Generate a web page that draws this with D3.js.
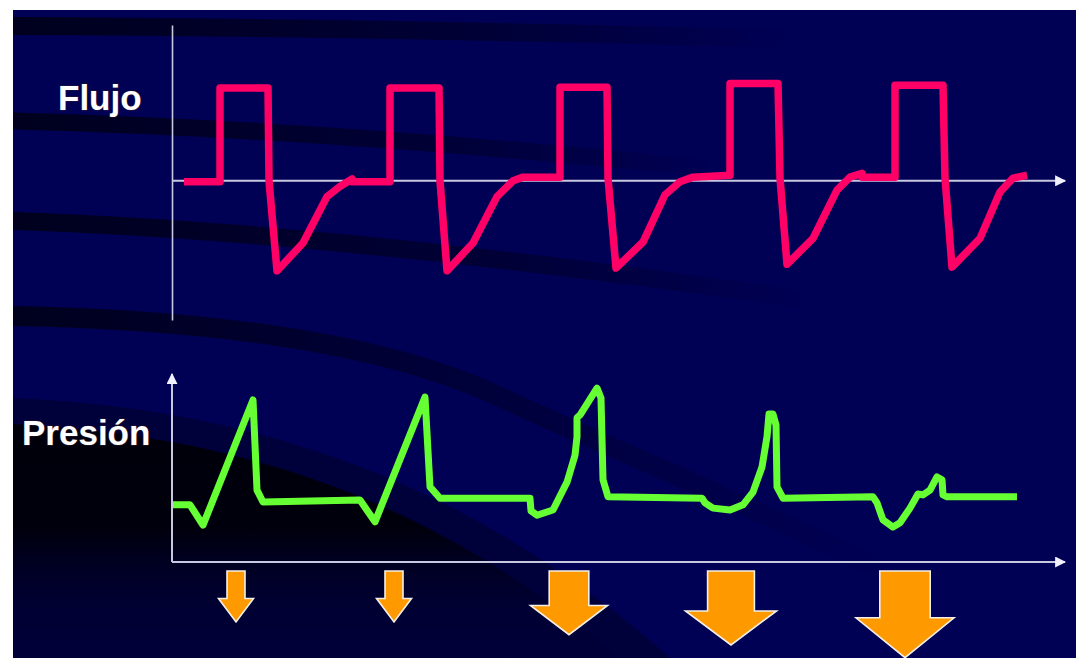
<!DOCTYPE html>
<html><head><meta charset="utf-8">
<script src="https://cdn.jsdelivr.net/npm/d3@7"></script>
<style>html,body{margin:0;padding:0;background:#fff;overflow:hidden}</style>
</head><body><svg id="c" width="1076" height="658"></svg>
<script>
// ---------- data (time in s, flow in L/s, pressure in cmH2O) ----------
const flowTime  = [0.12,0.48,0.48,0.96,0.97,1.05,1.31,1.55,1.68,1.80,
                   1.80,2.18,2.18,2.67,2.68,2.75,3.01,3.25,3.41,3.51,
                   3.88,3.88,4.35,4.36,4.44,4.71,4.93,5.08,5.21,
                   5.58,5.58,6.06,6.08,6.15,6.41,6.65,6.78,6.90,
                   6.90,7.23,7.23,7.71,7.73,7.80,8.08,8.28,8.41,8.55];
const flowValue = [-0.01,-0.01,1.00,1.00,0.00,-0.97,-0.67,-0.17,-0.06,0.02,
                   -0.01,-0.01,1.00,1.00,0.00,-0.97,-0.67,-0.17,0.00,0.04,
                   0.04,1.01,1.01,0.03,-0.94,-0.66,-0.15,-0.01,0.04,
                   0.06,1.05,1.05,0.03,-0.90,-0.62,-0.10,0.04,0.08,
                   0.04,0.04,1.03,1.03,0.03,-0.93,-0.62,-0.12,0.03,0.06];
const pressTime  = [0.01,0.18,0.31,0.81,0.85,0.91,1.88,
                    2.03,2.53,2.58,2.68,3.58,
                    3.59,3.65,3.81,3.95,4.03,4.05,4.05,4.08,4.25,4.29,4.31,4.36,5.30,
                    5.33,5.41,5.58,5.71,5.81,5.90,5.95,5.97,6.01,6.04,6.05,6.11,7.01,
                    7.05,7.11,7.21,7.28,7.38,7.46,7.51,7.58,7.65,7.70,7.71,7.75,8.45];
const pressValue = [12.1,12.1,7.8,34.3,15.2,12.7,13.1,
                    8.5,34.9,15.9,13.5,13.5,
                    10.8,9.9,11.0,16.9,22.6,26.5,30.5,31.1,36.8,34.7,17.4,13.8,13.5,
                    12.5,11.4,11.0,12.1,14.8,20.1,26.5,31.3,31.3,29.0,15.9,13.5,13.8,
                    12.5,8.9,7.4,8.3,11.4,14.4,14.2,15.2,18.0,17.4,14.2,13.8,13.8];
const arrowTime  = [0.64, 2.22, 3.97, 5.59, 7.33];
const arrowWidth = [1, 1, 2.2, 2.6, 2.8];
const arrowDepth = [1, 1, 1.25, 1.45, 1.7];
const panelLabels = ["Flujo", "Presión"];

// ---------- setup ----------
const svg = d3.select("#c");
const defs = svg.append("defs");

// background slide
svg.append("rect").attr("x",0).attr("y",0).attr("width",1076).attr("height",658).attr("fill","#fff");
svg.append("rect").attr("x",13).attr("y",10).attr("width",1063).attr("height",648).attr("fill","#000055");

function fadeGrad(id, x1, x2, stops){
  const g = defs.append("linearGradient").attr("id",id).attr("gradientUnits","userSpaceOnUse")
    .attr("x1",x1[0]).attr("y1",x1[1]).attr("x2",x2[0]).attr("y2",x2[1]);
  stops.forEach(s=>g.append("stop").attr("offset",s[0]).attr("stop-color",s[1]).attr("stop-opacity",s[2]));
}
fadeGrad("gA",[13,0],[800,0],[[0,"#000018",0.9],[0.6,"#000018",0.5],[1,"#000018",0]]);
fadeGrad("gB",[13,0],[720,0],[[0,"#000018",0.9],[0.6,"#000018",0.5],[1,"#000018",0]]);
fadeGrad("gC",[13,0],[820,0],[[0,"#000018",0.9],[0.6,"#000018",0.5],[1,"#000018",0]]);
fadeGrad("gD",[13,0],[900,0],[[0,"#000018",0.9],[0.5,"#000018",0.45],[1,"#000018",0]]);
fadeGrad("gL",[0,400],[0,658],[[0,"#000008",0.95],[0.5,"#000008",0.9],[0.75,"#000020",0.45],[1,"#000030",0.15]]);

const bg = svg.append("g").attr("clip-path","url(#slideClip)");
defs.append("clipPath").attr("id","slideClip").append("rect").attr("x",13).attr("y",10).attr("width",1063).attr("height",648);
bg.append("path").attr("d","M13,26 C 300,27 550,32 820,40").attr("fill","none").attr("stroke","url(#gA)").attr("stroke-width",18);
bg.append("path").attr("d","M13,121 C 200,126 420,138 720,170").attr("fill","none").attr("stroke","url(#gB)").attr("stroke-width",17);
bg.append("path").attr("d","M13,221 C 200,227 450,248 820,302").attr("fill","none").attr("stroke","url(#gC)").attr("stroke-width",18);
bg.append("path").attr("d","M13,316 C 220,320 390,345 500,397 C 620,452 760,510 900,578").attr("fill","none").attr("stroke","url(#gD)").attr("stroke-width",20);
bg.append("path").attr("d","M13,398 C 250,408 470,480 670,658 L13,658 Z").attr("fill","#00002a").attr("opacity",0.6);
bg.append("path").attr("d","M13,424 C 250,436 440,505 620,658 L13,658 Z").attr("fill","url(#gL)");

// ---------- scales ----------
const x = d3.scaleLinear().domain([0, 8.95]).range([172, 1067]);
const yFlow = d3.scaleLinear().domain([-1.5, 1.68]).range([320, 25]);
const yPress = d3.scaleLinear().domain([0, 40]).range([562, 373]);

// markers
const mk = defs.append("marker").attr("id","ah").attr("viewBox","0 0 10 10").attr("refX",9).attr("refY",5)
  .attr("markerWidth",11).attr("markerHeight",11).attr("markerUnits","userSpaceOnUse").attr("orient","auto");
mk.append("path").attr("d","M0,0 L10,5 L0,10 Z").attr("fill","#f0f0ff");

const axisColor = "#c8c8e0";
// upper panel axes
const gFlowAxes = svg.append("g");
gFlowAxes.append("g").attr("transform",`translate(${x(0)},0)`)
  .call(d3.axisLeft(yFlow).tickValues([]).tickSizeOuter(0))
  .call(g=>g.select(".domain").attr("stroke",axisColor).attr("stroke-width",1.6));
gFlowAxes.append("line").attr("x1",x.range()[0]).attr("x2",x.range()[1]-2)
  .attr("y1",yFlow(0)).attr("y2",yFlow(0)).attr("stroke",axisColor).attr("stroke-width",2).attr("marker-end","url(#ah)");

// lower panel axes
const gPressAxes = svg.append("g");
gPressAxes.append("line").attr("x1",x(0)).attr("x2",x(0)).attr("y1",yPress.range()[0]).attr("y2",yPress.range()[1]+1)
  .attr("stroke",axisColor).attr("stroke-width",2).attr("marker-end","url(#ah)");
gPressAxes.append("line").attr("x1",x(0)).attr("x2",x.range()[1]-2).attr("y1",yPress(0)).attr("y2",yPress(0))
  .attr("stroke",axisColor).attr("stroke-width",2).attr("marker-end","url(#ah)");

// ---------- traces ----------
const flowData = flowTime.map((t,i)=>({t, v: flowValue[i]}));
const pressData = pressTime.map((t,i)=>({t, v: pressValue[i]}));

svg.append("path").datum(flowData)
  .attr("d", d3.line().x(d=>x(d.t)).y(d=>yFlow(d.v)))
  .attr("fill","none").attr("stroke","#ff0066").attr("stroke-width",7.5)
  .attr("stroke-linejoin","round").attr("stroke-linecap","butt");

svg.append("path").datum(pressData)
  .attr("d", d3.line().x(d=>x(d.t)).y(d=>yPress(d.v)))
  .attr("fill","none").attr("stroke","#66ff33").attr("stroke-width",7)
  .attr("stroke-linejoin","round").attr("stroke-linecap","butt");

// ---------- arrows ----------
const arrowTop = 571;
const arrows = arrowTime.map((t,i)=>({t, w: arrowWidth[i], d: arrowDepth[i]}));
svg.append("g").selectAll("path").data(arrows).join("path")
  .attr("d", a=>{
    const cx = x(a.t), sw = 9*a.w, hw = 17.5*a.w, L = 51*a.d, hh = 0.46*L;
    const yb = arrowTop + L - hh;
    return `M${cx-sw},${arrowTop} L${cx+sw},${arrowTop} L${cx+sw},${yb} L${cx+hw},${yb} L${cx},${arrowTop+L} L${cx-hw},${yb} L${cx-sw},${yb} Z`;
  })
  .attr("fill","#ff9900").attr("stroke","#f4f0e8").attr("stroke-width",1.6).attr("stroke-linejoin","miter");

// ---------- labels ----------
const labelPos = [[58,110],[22,445]];
svg.append("g").selectAll("text").data(panelLabels).join("text")
  .attr("x",(d,i)=>labelPos[i][0]).attr("y",(d,i)=>labelPos[i][1])
  .attr("font-family","'Liberation Sans', Arial, sans-serif").attr("font-weight","bold")
  .attr("font-size",35).attr("fill","#ffffff")
  .style("paint-order","stroke").attr("stroke","#2a1a30").attr("stroke-width",1.2)
  .text(d=>d);
</script></body></html>
